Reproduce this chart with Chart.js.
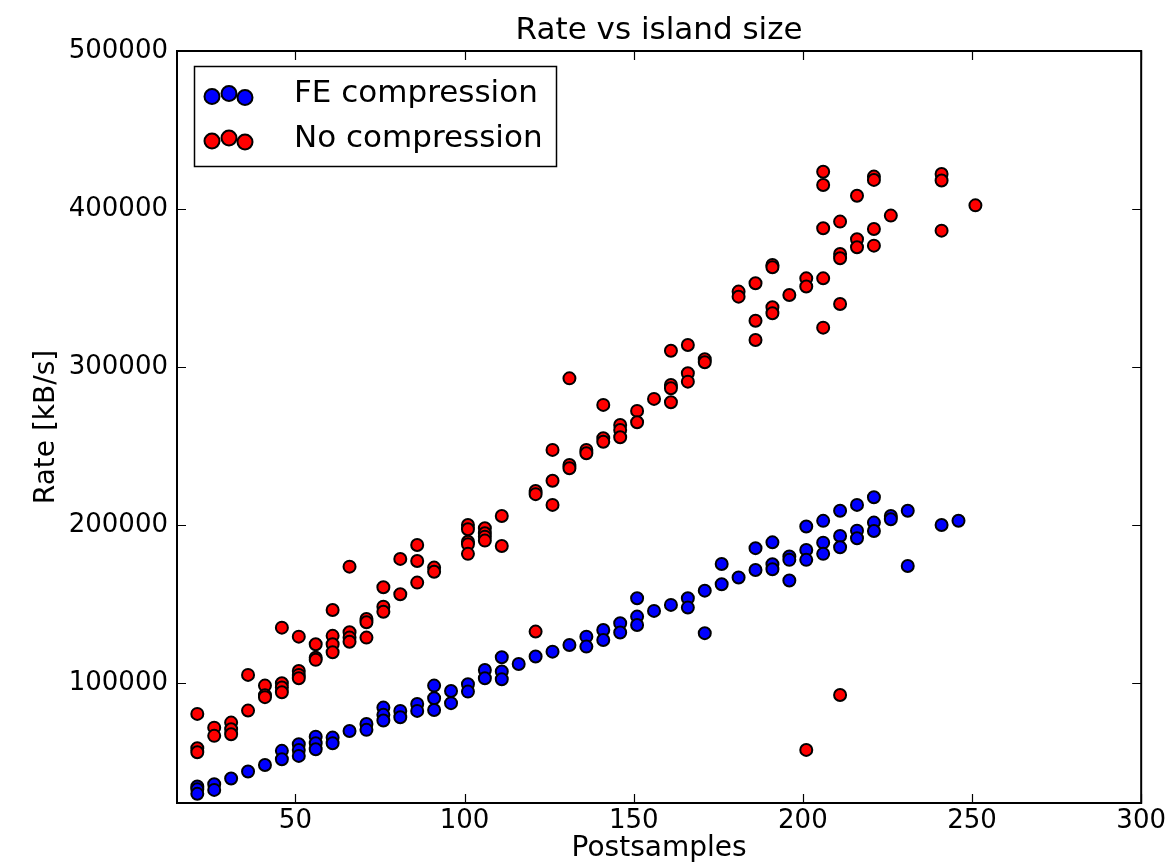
<!DOCTYPE html>
<html>
<head>
<meta charset="utf-8">
<title>Rate vs island size</title>
<script src="https://cdn.jsdelivr.net/npm/chart.js@4.4.0/dist/chart.umd.min.js"></script>
<style>
  html, body { margin: 0; padding: 0; background: #ffffff; }
  #wrap { width: 1169px; height: 866px; }
</style>
</head>
<body>
<div id="wrap"><canvas id="chart" width="1169" height="866"></canvas></div>
<script>
// FE compression (blue) - postsamples and rate [kB/s]
const feSamples = [
  21, 21, 21, 26, 26, 31, 36, 41, 46, 46,
  51, 51, 51, 56, 56, 56, 61, 61, 66, 71, 71,
  76, 76, 76, 81, 81, 86, 86, 91, 91, 91, 96, 96,
  101, 101, 106, 106, 111, 111, 111, 116, 121, 126, 131,
  136, 136, 141, 141, 146, 146, 151, 151, 151, 156, 161,
  166, 166, 171, 171, 176, 176, 181, 186, 186,
  191, 191, 191, 196, 196, 196, 201, 201, 201,
  206, 206, 206, 211, 211, 211, 216, 216, 216,
  221, 221, 221, 226, 226, 231, 231, 241, 246
];
const feRate = [
  34400, 32700, 29800, 35900, 32300, 39500, 43900, 48100, 57000, 51700,
  61200, 57600, 53800, 66000, 61800, 58000, 65400, 61800, 69600, 74000, 70300,
  84400, 79800, 76200, 82300, 78300, 86700, 82300, 98300, 90300, 82900, 94900, 87200,
  99200, 94500, 108200, 103000, 116300, 107200, 102300, 112000, 116700, 119800, 124000,
  129300, 123000, 133500, 127200, 137800, 131900, 153600, 142000, 136700, 145600, 149400,
  153600, 147700, 158400, 131500, 175300, 162500, 166700, 185300, 171500,
  189000, 175100, 172000, 180000, 177900, 164800, 199000, 184200, 177900,
  202600, 188800, 181700, 209000, 193000, 185900, 212700, 196400, 191600,
  217500, 201500, 196200, 205700, 203600, 209000, 174000, 200000, 202700
];

// No compression (red)
const noSamples = [
  21, 21, 21, 26, 26, 31, 31, 31, 36, 36,
  41, 41, 41, 46, 46, 46, 46, 51, 51, 51, 51,
  56, 56, 56, 61, 61, 61, 61, 66, 66, 66, 66,
  71, 71, 71, 76, 76, 76, 81, 81, 86, 86, 86, 91, 91,
  101, 101, 101, 101, 101, 106, 106, 106, 106, 111, 111,
  121, 121, 121, 126, 126, 126, 131, 131, 131, 136, 136,
  141, 141, 141, 146, 146, 146, 151, 151, 156,
  161, 161, 161, 161, 166, 166, 166, 171, 171,
  181, 181, 186, 186, 186, 191, 191, 191, 191, 196,
  201, 201, 201, 206, 206, 206, 206, 206,
  211, 211, 211, 211, 211, 216, 216, 216,
  221, 221, 221, 221, 226, 241, 241, 241, 251
];
const noRate = [
  80400, 58700, 56100, 71700, 66500, 74900, 70700, 67500, 105100, 82500,
  98300, 92200, 91000, 135000, 99800, 97100, 94100, 129300, 107600, 105100, 103000,
  124500, 116000, 114600, 146200, 129800, 124500, 119400, 173600, 132100, 128700, 126100,
  140500, 138400, 128700, 160600, 148300, 145100, 178500, 156100, 187300, 177200, 163500, 173000, 170400,
  200000, 197300, 189400, 187800, 181700, 197900, 194700, 192600, 190100, 205700, 186700,
  221500, 219500, 132500, 247500, 228000, 212700, 292800, 238000, 235900, 247500, 245400,
  276000, 254900, 252700, 263300, 260100, 255500, 272200, 265000, 279800,
  310300, 288600, 286500, 277700, 313900, 296000, 290700, 304900, 303000,
  347700, 344500, 353000, 329300, 317100, 364600, 363100, 337800, 334000, 345600,
  356100, 350900, 57600, 423600, 415200, 387800, 356100, 324900,
  392000, 371500, 368800, 339900, 92400, 408400, 380800, 375800,
  420500, 418400, 387300, 376800, 395800, 422200, 418000, 386300, 402300
];

// Axis ticks
const xTicks = [50, 100, 150, 200, 250, 300];
const yTicks = [100000, 200000, 300000, 400000, 500000];

const toPoints = (xs, ys) => xs.map((x, i) => ({ x: x, y: ys[i] }));

const FONT = "'DejaVu Sans', 'Liberation Sans', sans-serif";
Chart.defaults.font.family = FONT;
Chart.defaults.color = '#000000';

// Frame, inward ticks on all four sides, title and the three-dot legend
const decorations = {
  id: 'decorations',
  afterDatasetsDraw(chart) {
    const ctx = chart.ctx;
    const area = chart.chartArea;
    const xs = chart.scales.x;
    const ys = chart.scales.y;
    const tickLen = 9;

    ctx.save();
    ctx.strokeStyle = '#000000';
    ctx.lineWidth = 1.2;
    ctx.beginPath();
    xTicks.forEach(v => {
      const px = Math.round(xs.getPixelForValue(v)) + 0.5;
      ctx.moveTo(px, area.bottom);
      ctx.lineTo(px, area.bottom - tickLen);
      ctx.moveTo(px, area.top);
      ctx.lineTo(px, area.top + tickLen);
    });
    yTicks.forEach(v => {
      const py = Math.round(ys.getPixelForValue(v)) + 0.5;
      ctx.moveTo(area.left, py);
      ctx.lineTo(area.left + tickLen, py);
      ctx.moveTo(area.right, py);
      ctx.lineTo(area.right - tickLen, py);
    });
    ctx.stroke();

    // axes frame
    ctx.lineWidth = 2;
    ctx.strokeRect(area.left, area.top, area.right - area.left, area.bottom - area.top);

    // title
    ctx.fillStyle = '#000000';
    ctx.font = '31px ' + FONT;
    ctx.textAlign = 'center';
    ctx.textBaseline = 'alphabetic';
    ctx.fillText('Rate vs island size', (area.left + area.right) / 2, 39);

    // legend box
    ctx.fillStyle = '#ffffff';
    ctx.fillRect(194, 66, 362, 101);
    ctx.lineWidth = 1.5;
    ctx.strokeRect(194.5, 66.5, 362, 100);

    const dotX = [212, 229, 245];
    const dotDy = [0.5, -2.5, 1.5];
    chart.data.datasets.forEach((ds, i) => {
      const cy = 96 + i * 44.5;
      dotX.forEach((dx, k) => {
        ctx.beginPath();
        ctx.arc(dx, cy + dotDy[k], 7.5, 0, Math.PI * 2);
        ctx.fillStyle = ds.backgroundColor;
        ctx.fill();
        ctx.lineWidth = 2;
        ctx.strokeStyle = '#000000';
        ctx.stroke();
      });
      ctx.fillStyle = '#000000';
      ctx.font = '31px ' + FONT;
      ctx.textAlign = 'left';
      ctx.textBaseline = 'middle';
      ctx.fillText(ds.label, 294, cy - 2);
    });
    ctx.restore();
  }
};

new Chart(document.getElementById('chart'), {
  type: 'scatter',
  data: {
    datasets: [
      {
        label: 'FE compression',
        data: toPoints(feSamples, feRate),
        backgroundColor: '#0000ff',
        borderColor: '#000000',
        borderWidth: 2,
        pointRadius: 6,
        order: 1
      },
      {
        label: 'No compression',
        data: toPoints(noSamples, noRate),
        backgroundColor: '#ff0000',
        borderColor: '#000000',
        borderWidth: 2,
        pointRadius: 6,
        order: 0
      }
    ]
  },
  options: {
    responsive: false,
    animation: false,
    layout: { padding: { top: 51, right: 22, left: 0, bottom: 0 } },
    plugins: {
      legend: { display: false },
      title: { display: false },
      tooltip: { enabled: false }
    },
    scales: {
      x: {
        type: 'linear',
        min: 15,
        max: 300,
        grid: { display: false, drawTicks: false },
        border: { display: false },
        afterBuildTicks: scale => { scale.ticks = xTicks.map(v => ({ value: v })); },
        afterFit: scale => { scale.height = 63; },
        ticks: {
          font: { size: 26 },
          padding: 3,
          maxRotation: 0,
          callback: v => String(v)
        },
        title: {
          display: true,
          text: 'Postsamples',
          font: { size: 28 },
          padding: { top: 0, bottom: 0 }
        }
      },
      y: {
        type: 'linear',
        min: 24000,
        max: 500000,
        grid: { display: false, drawTicks: false },
        border: { display: false },
        afterBuildTicks: scale => { scale.ticks = yTicks.map(v => ({ value: v })); },
        afterFit: scale => { scale.width = 177; },
        ticks: {
          font: { size: 26 },
          padding: 9,
          callback: v => String(v)
        },
        title: {
          display: true,
          text: 'Rate [kB/s]',
          font: { size: 28 },
          padding: { top: 30, bottom: 0 }
        }
      }
    }
  },
  plugins: [decorations]
});
</script>
</body>
</html>
